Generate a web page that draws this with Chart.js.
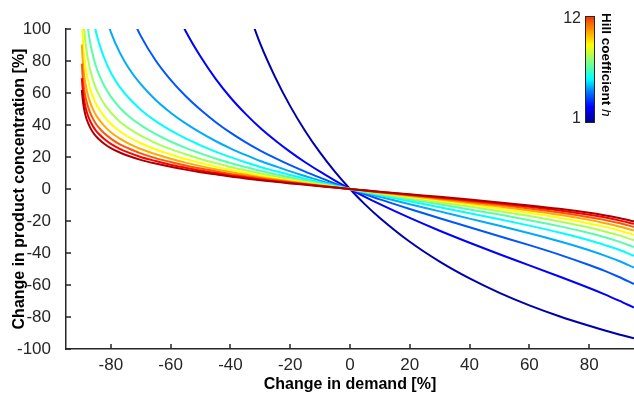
<!DOCTYPE html>
<html>
<head>
<meta charset="utf-8">
<title>Hill coefficient</title>
<script src="https://cdn.jsdelivr.net/npm/chart.js@4.4.1/dist/chart.umd.min.js"></script>
<style>
  html, body { margin: 0; padding: 0; background: #fff; }
  #wrap { width: 634px; height: 395px; }
</style>
</head>
<body>
<div id="wrap"><canvas id="hillChart" width="634" height="395"></canvas></div>
<script>
// change in demand [%]
const demand = [-89.7, -89.4, -89, -88.5, -88, -87, -86, -85, -84, -82, -80, -77, -74, -70, -65, -60, -55, -50, -45, -40,
  -35, -30, -25, -20, -15, -10, -5, 0, 5, 10, 20, 30, 40, 50, 60, 70, 80, 85, 90, 95];

const hill = [1, 2, 3, 4, 5, 6, 7, 8, 9, 10, 11, 12];

// change in product concentration [%], one list per Hill coefficient
const conc1 = [null, null, null, null, null, null, null, null, null, null, null, null, null, null, null, null, null, null, null, null,
  116.2, 90.7, 69.8, 51.8, 36.3, 22.7, 10.7, 0, -9.6, -18.1, -33.0, -45.4, -55.9, -64.9, -72.7, -79.5, -85.5, -88.3, -90.9, -93.3];
const conc2 = [null, null, null, null, null, null, null, null, null, null, null, null, null, null, null,
  118.0, 98.8, 82.8, 69.0, 57.2, 47.1, 38.1, 30.3, 23.2, 16.7, 10.8, 5.2, 0, -4.9, -9.5, -18.1, -26.1, -33.6, -40.8, -47.7, -54.7, -61.9, -65.7, -69.8, -74.1];
const conc3 = [null, null, null, null, null, null, null, null, null, null, null, null,
  111.7, 95.7, 80.3, 68.2, 58.1, 49.5, 41.9, 35.2, 29.3, 24.0, 19.3, 14.9, 10.9, 7.1, 3.4, 0, -3.3, -6.5, -12.5, -18.3, -23.9, -29.5, -35.1, -41.0, -47.5, -51.0, -55.0, -59.4];
const conc4 = [null, null, null, null, null, null, null, null, null,
  109.6, 98.1, 85.2, 75.5, 65.5, 55.6, 47.7, 41.0, 35.2, 30.0, 25.4, 21.3, 17.5, 14.2, 11.0, 8.1, 5.2, 2.6, 0, -2.5, -4.9, -9.5, -14.0, -18.5, -23.0, -27.7, -32.7, -38.3, -41.5, -45.0, -49.1];
const conc5 = [null, null, null, null, null, null,
  107.3, 98.4, 91.5, 80.8, 72.7, 63.7, 56.9, 49.6, 42.4, 36.6, 31.6, 27.3, 23.4, 19.9, 16.7, 13.8, 11.2, 8.7, 6.4, 4.2, 2.1, 0, -2.0, -3.9, -7.7, -11.4, -15.1, -18.9, -22.9, -27.2, -32.0, -34.9, -38.0, -41.8];
const conc6 = [null, null, null, null,
  104.8, 92.3, 83.6, 76.9, 71.8, 63.7, 57.7, 50.8, 45.5, 39.9, 34.3, 29.7, 25.7, 22.3, 19.1, 16.3, 13.7, 11.4, 9.2, 7.2, 5.3, 3.5, 1.7, 0, -1.7, -3.3, -6.5, -9.6, -12.8, -16.0, -19.5, -23.2, -27.5, -30.0, -32.9, -36.3];
const conc7 = [null, null,
  101.8, 91.9, 84.9, 75.1, 68.3, 63.1, 59.0, 52.6, 47.8, 42.1, 37.9, 33.3, 28.7, 24.9, 21.7, 18.8, 16.2, 13.8, 11.7, 9.7, 7.9, 6.1, 4.5, 3.0, 1.5, 0, -1.4, -2.8, -5.6, -8.3, -11.0, -13.9, -16.9, -20.3, -24.1, -26.4, -29.0, -32.1];
const conc8 = [106.2, 94.4, 84.8, 76.9, 71.2, 63.3, 57.7, 53.4, 50.1, 44.8, 40.8, 36.1, 32.5, 28.6, 24.7, 21.6, 18.7, 16.3, 14.0, 12.0,
  10.1, 8.4, 6.8, 5.4, 3.9, 2.6, 1.3, 0, -1.3, -2.5, -4.9, -7.3, -9.7, -12.3, -15.0, -18.0, -21.5, -23.5, -25.9, -28.7];
const conc9 = [90.3, 80.6, 72.6, 66.0, 61.3, 54.6, 49.9, 46.3, 43.5, 39.0, 35.5, 31.5, 28.4, 25.0, 21.7, 18.9, 16.5, 14.3, 12.3, 10.6,
  9.0, 7.4, 6.1, 4.7, 3.5, 2.3, 1.1, 0, -1.1, -2.2, -4.4, -6.5, -8.7, -11.0, -13.4, -16.1, -19.3, -21.2, -23.4, -26.0];
const conc10 = [78.4, 70.2, 63.4, 57.8, 53.7, 48.0, 44.0, 40.8, 38.4, 34.5, 31.5, 27.9, 25.3, 22.3, 19.3, 16.9, 14.7, 12.8, 11.1, 9.4,
  8.0, 6.7, 5.4, 4.3, 3.1, 2.1, 1.0, 0, -1.0, -2.0, -3.9, -5.9, -7.9, -9.9, -12.2, -14.7, -17.6, -19.3, -21.3, -23.7];
const conc11 = [69.3, 62.2, 56.3, 51.4, 47.8, 42.8, 39.3, 36.5, 34.4, 30.9, 28.2, 25.1, 22.7, 20.0, 17.5, 15.2, 13.3, 11.5, 10.0, 8.5,
  7.3, 6.0, 4.9, 3.9, 2.9, 1.9, 0.9, 0, -0.9, -1.8, -3.6, -5.4, -7.2, -9.1, -11.1, -13.4, -16.1, -17.7, -19.6, -21.8];
const conc12 = [62.0, 55.8, 50.6, 46.2, 43.1, 38.7, 35.5, 33.0, 31.1, 28.0, 25.6, 22.8, 20.6, 18.2, 15.9, 13.9, 12.1, 10.5, 9.2, 7.8,
  6.6, 5.5, 4.5, 3.5, 2.6, 1.7, 0.9, 0, -0.8, -1.7, -3.3, -4.9, -6.6, -8.4, -10.3, -12.4, -14.9, -16.4, -18.1, -20.2];

const series = [conc1, conc2, conc3, conc4, conc5, conc6, conc7, conc8, conc9, conc10, conc11, conc12];

const xTicks = [-80, -60, -40, -20, 0, 20, 40, 60, 80];
const yTicks = [-100, -80, -60, -40, -20, 0, 20, 40, 60, 80, 100];

// jet colours, h = 1 .. 12
const jet = ['rgb(0,0,170)', 'rgb(0,0,255)', 'rgb(0,85,255)', 'rgb(0,170,255)', 'rgb(0,255,255)', 'rgb(85,255,170)',
  'rgb(170,255,85)', 'rgb(255,255,0)', 'rgb(255,170,0)', 'rgb(255,85,0)', 'rgb(255,0,0)', 'rgb(170,0,0)'];

const axisColor = '#262626';
const fontFamily = "'Liberation Sans', Arial, Helvetica, sans-serif";

// inward ticks + colorbar, drawn on top
const matlabBits = {
  id: 'matlabBits',
  afterDraw(chart) {
    const ctx = chart.ctx;
    const a = chart.chartArea;
    const x = chart.scales.x, y = chart.scales.y;
    ctx.save();
    ctx.strokeStyle = axisColor;
    ctx.lineWidth = 1.5;
    ctx.beginPath();
    xTicks.forEach(v => {
      const px = Math.round(x.getPixelForValue(v));
      ctx.moveTo(px, a.bottom);
      ctx.lineTo(px, a.bottom - 5);
    });
    yTicks.forEach(v => {
      const py = Math.round(y.getPixelForValue(v));
      ctx.moveTo(a.left, py);
      ctx.lineTo(a.left + 5, py);
    });
    ctx.stroke();

    // colorbar
    const cbL = 585, cbT = 16, cbW = 10, cbH = 107;
    const g = ctx.createLinearGradient(0, cbT + cbH, 0, cbT);
    g.addColorStop(0, 'rgb(0,0,140)');
    g.addColorStop(0.15, 'rgb(0,0,255)');
    g.addColorStop(0.28, 'rgb(0,110,255)');
    g.addColorStop(0.41, 'rgb(0,255,255)');
    g.addColorStop(0.57, 'rgb(128,255,128)');
    g.addColorStop(0.73, 'rgb(255,255,0)');
    g.addColorStop(0.88, 'rgb(255,140,0)');
    g.addColorStop(1, 'rgb(240,50,0)');
    ctx.fillStyle = g;
    ctx.fillRect(cbL, cbT, cbW, cbH);
    ctx.lineWidth = 1;
    ctx.strokeRect(cbL + 0.5, cbT + 0.5, cbW - 1, cbH - 1);

    ctx.fillStyle = axisColor;
    ctx.font = '16px ' + fontFamily;
    ctx.textAlign = 'right';
    ctx.textBaseline = 'middle';
    ctx.fillText(String(hill[hill.length - 1]), 581, 19);
    ctx.fillText(String(hill[0]), 581, 119);

    // rotated label
    ctx.translate(606, 13);
    ctx.rotate(Math.PI / 2);
    ctx.textAlign = 'left';
    ctx.fillStyle = '#000';
    ctx.font = 'bold 13.5px ' + fontFamily;
    const part = 'Hill coefficient ';
    ctx.fillText(part, 0, 0);
    const w = ctx.measureText(part).width;
    ctx.font = 'italic 13.5px ' + fontFamily;
    ctx.fillText('h', w, 0);
    ctx.restore();
  }
};

const datasets = hill.map((h, i) => ({
  label: 'h = ' + h,
  data: demand.map((d, j) => ({ x: d, y: series[i][j] })),
  borderColor: jet[i],
  borderWidth: 2,
  pointRadius: 0,
  fill: false,
  spanGaps: false,
  cubicInterpolationMode: 'monotone',
  order: hill.length + 1 - h
}));

new Chart(document.getElementById('hillChart'), {
  type: 'line',
  data: { datasets: datasets },
  options: {
    responsive: false,
    animation: false,
    events: [],
    layout: { padding: { top: 29, right: 0, bottom: 0, left: 0 } },
    plugins: { legend: { display: false }, tooltip: { enabled: false } },
    scales: {
      x: {
        type: 'linear',
        min: -95,
        max: 95,
        afterBuildTicks: s => { s.ticks = xTicks.map(v => ({ value: v })); },
        afterFit: s => { s.height = 46; },
        grid: { display: false },
        border: { display: true, color: axisColor, width: 1.5 },
        ticks: { color: axisColor, padding: 0, font: { family: fontFamily, size: 17, lineHeight: 1 } },
        title: {
          display: true,
          text: 'Change in demand [%]',
          color: '#000',
          font: { family: fontFamily, size: 16, weight: 'bold' },
          padding: { top: 0, bottom: 1 }
        }
      },
      y: {
        type: 'linear',
        min: -100,
        max: 100,
        afterBuildTicks: s => { s.ticks = yTicks.map(v => ({ value: v })); },
        afterFit: s => { s.width = 66; },
        grid: { display: false },
        border: { display: true, color: axisColor, width: 1.5 },
        ticks: { color: axisColor, padding: 7, font: { family: fontFamily, size: 17, lineHeight: 1 } },
        title: {
          display: true,
          text: 'Change in product concentration [%]',
          color: '#000',
          font: { family: fontFamily, size: 16, weight: 'bold' },
          padding: { top: 10, bottom: 0 }
        }
      }
    }
  },
  plugins: [matlabBits]
});
</script>
</body>
</html>
